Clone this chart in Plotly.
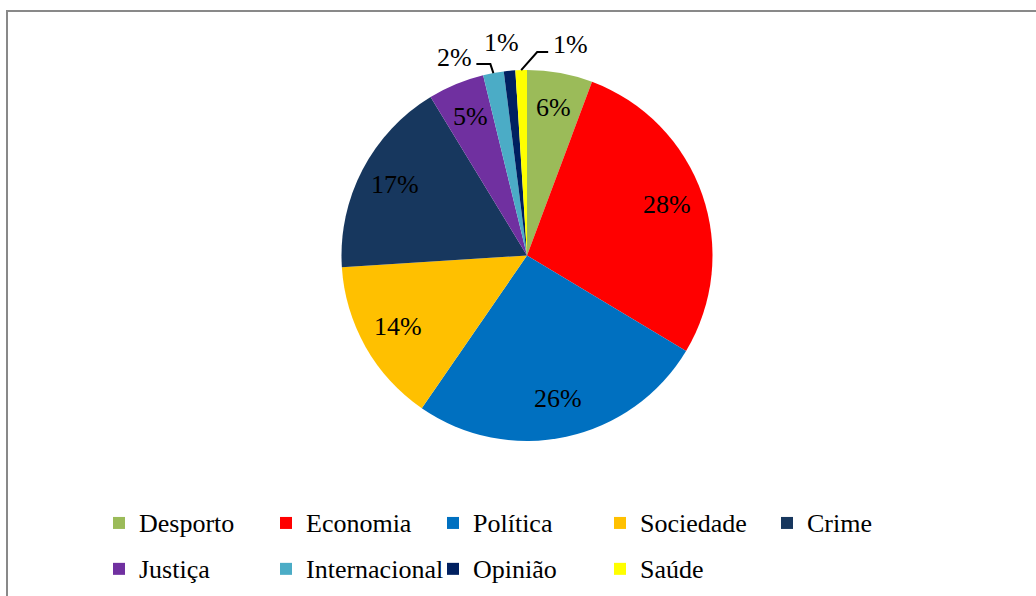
import math
import plotly.graph_objects as go

categories = ["Desporto", "Economia", "Política", "Sociedade", "Crime",
              "Justiça", "Internacional", "Opinião", "Saúde"]
values = [5.7, 27.9, 26.0, 14.4, 17.3, 4.9, 1.8, 1.0, 1.0]
colors = ["#9BBB59", "#FF0000", "#0070C0", "#FFC000", "#17375E",
          "#7030A0", "#4BACC6", "#002060", "#FFFF00"]
# label placement style: "in" = inside slice, else outside with offsets (px)
label_style = ["in", "in", "in", "in", "in", "in", "left", "top", "right"]

FONT = "Liberation Serif"
W, H = 1036, 596
ML, MR, MT, MB = 77, 59, 10, 10
GW, GH = W - ML - MR, H - MT - MB
PIE_TOP, PIE_BOTTOM = 70, 441
dom_y = [(H - MB - PIE_BOTTOM) / GH, (H - MB - PIE_TOP) / GH]
R = min(GW, (dom_y[1] - dom_y[0]) * GH) / 2
cxp, cyp = 0.5, (dom_y[0] + dom_y[1]) / 2

legend_labels = [
    f"<span style='font-size:26px;baseline-shift:4px'>{c}</span>"
    for c in categories
]

fig = go.Figure(go.Pie(
    labels=legend_labels,
    values=values,
    sort=False,
    direction="clockwise",
    rotation=0,
    marker=dict(colors=colors, line=dict(width=0)),
    textinfo="none",
    domain=dict(x=[0, 1], y=dom_y),
    hovertemplate="%{label}: %{percent:.0%}<extra></extra>",
))

total = sum(values)
annotations, shapes = [], []
cum = 0.0
for v, style in zip(values, label_style):
    mid = (cum + v / 2) / total * 2 * math.pi
    cum += v
    pct = f"{round(v / total * 100):.0f}%"
    if style == "in":
        r = 0.8 * R
        annotations.append(dict(
            x=cxp + r * math.sin(mid) / GW, y=cyp + r * math.cos(mid) / GH,
            xref="paper", yref="paper", text=pct, showarrow=False,
            font=dict(family=FONT, size=26, color="black"),
            xanchor="center", yanchor="middle", yshift=2))
    else:
        ax_ = cxp + R * math.sin(mid) / GW
        ay_ = cyp + R * math.cos(mid) / GH
        if style == "left":
            ann = dict(xanchor="right", xshift=-19, yshift=16)
            path = "M0,0 L-3,9 L-17,9"
        elif style == "right":
            ann = dict(xanchor="left", xshift=30, yshift=26)
            path = "M0,0 L16,18 L27,18"
        else:
            ann = dict(xanchor="center", xshift=-8, yshift=28)
            path = None
        annotations.append(dict(
            x=ax_, y=ay_, xref="paper", yref="paper", text=pct,
            showarrow=False, yanchor="middle",
            font=dict(family=FONT, size=26, color="black"), **ann))
        if path:
            shapes.append(dict(
                type="path", xref="paper", yref="paper",
                xsizemode="pixel", ysizemode="pixel",
                xanchor=ax_, yanchor=ay_, path=path,
                line=dict(color="black", width=2)))

shapes.append(dict(
    type="rect", xref="paper", yref="paper",
    x0=(7 - ML) / GW, x1=(W + 5 - ML) / GW,
    y0=(H - MB - (H + 10)) / GH, y1=(H - MB - 11) / GH,
    line=dict(color="#898989", width=2),
    fillcolor="rgba(0,0,0,0)", layer="below",
))

fig.update_layout(
    width=W, height=H,
    margin=dict(l=ML, r=MR, t=MT, b=MB, autoexpand=False),
    paper_bgcolor="white",
    plot_bgcolor="white",
    font=dict(family=FONT, size=26, color="black"),
    showlegend=True,
    legend=dict(
        orientation="h",
        xref="container", yref="container",
        x=99 / W, xanchor="left",
        y=(H - 495) / H, yanchor="top",
        entrywidth=122, entrywidthmode="pixels",
        font=dict(family=FONT, size=33, color="black"),
        traceorder="normal",
        bgcolor="rgba(0,0,0,0)",
    ),
    annotations=annotations,
    shapes=shapes,
)

fig.write_html("out.html")
